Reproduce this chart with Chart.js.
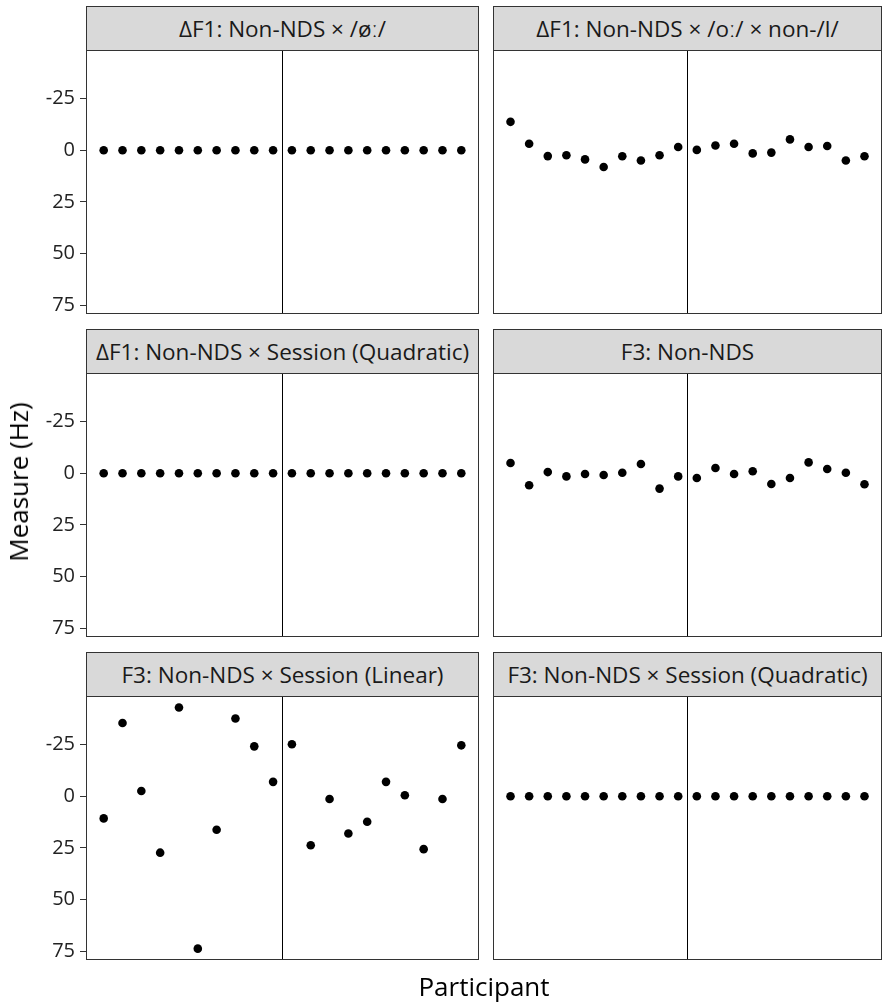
<!DOCTYPE html>
<html>
<head>
<meta charset="utf-8">
<script src="https://cdn.jsdelivr.net/npm/chart.js@4"></script>
<style>
  body { margin: 0; background: #fff; font-family: "Open Sans", sans-serif; }
  #wrap { position: relative; width: 883px; height: 1003px; }
  .strip { position: absolute; box-sizing: border-box; background: #d9d9d9; border: 1px solid #333;
           color: #1a1a1a; font-size: 22.5px; display: flex; align-items: center; justify-content: center; white-space: nowrap; }
  canvas { position: absolute; }
  .axtitle { position: absolute; color: #000; font-size: 26px; white-space: nowrap; }
</style>
</head>
<body>
<div id="wrap"></div>
<script>
// participants (x categories, not labelled in the figure)
const participants = ["P01","P02","P03","P04","P05","P06","P07","P08","P09","P10",
                      "P11","P12","P13","P14","P15","P16","P17","P18","P19","P20"];
const panelTitles = [
  "ΔF1: Non-NDS × /øː/",
  "ΔF1: Non-NDS × /oː/ × non-/l/",
  "ΔF1: Non-NDS × Session (Quadratic)",
  "F3: Non-NDS",
  "F3: Non-NDS × Session (Linear)",
  "F3: Non-NDS × Session (Quadratic)"
];
const f1Oe = [0,0,0,0,0,0,0,0,0,0, 0,0,0,0,0,0,0,0,0,0];
const f1OoNonL = [-13.8,-3.2,2.8,2.4,4.4,8.1,2.9,4.9,2.4,-1.6, -0.2,-2.3,-3.2,1.5,1.1,-5.3,-1.6,-2.1,4.9,2.9];
const f1SessionQuad = [0,0,0,0,0,0,0,0,0,0, 0,0,0,0,0,0,0,0,0,0];
const f3 = [-5.0,5.8,-0.6,1.5,0.3,0.8,-0.3,-4.5,7.4,1.5, 2.3,-2.6,0.3,-1.0,5.2,2.3,-5.3,-2.1,-0.3,5.3];
const f3SessionLin = [10.7,-35.5,-2.6,27.3,-43.0,73.8,16.2,-37.7,-24.2,-7.0, -25.2,23.7,1.3,18.0,12.3,-7.0,-0.5,25.6,1.3,-24.7];
const f3SessionQuad = [0,0,0,0,0,0,0,0,0,0, 0,0,0,0,0,0,0,0,0,0];
const yTicks = [-25, 0, 25, 50, 75];
const yMin = -48.6, yMax = 79.3;
const groupSplit = 9.5; // vertical line between participant 10 and 11

const panelValues = [f1Oe, f1OoNonL, f1SessionQuad, f3, f3SessionLin, f3SessionQuad];

const ink = "#333";
const wrap = document.getElementById("wrap");

const borderPlugin = {
  id: "panelBorder",
  afterDraw(chart) {
    const { ctx, chartArea: a } = chart;
    ctx.save();
    ctx.strokeStyle = ink;
    ctx.lineWidth = 1;
    ctx.strokeRect(a.left + 0.5, a.top + 0.5, a.right - a.left - 1, a.bottom - a.top - 1);
    ctx.restore();
  }
};

const colLeft = [86, 493];
const colRight = [479, 882];
const rowTop = [6, 329, 652];
const stripH = 45;
const plotH = 264;
const pad = 22;

panelValues.forEach((vals, k) => {
  const col = k % 2, row = Math.floor(k / 2);
  const strip = document.createElement("div");
  strip.className = "strip";
  strip.style.left = colLeft[col] + "px";
  strip.style.top = rowTop[row] + "px";
  strip.style.width = (colRight[col] - colLeft[col]) + "px";
  strip.style.height = stripH + "px";
  strip.textContent = panelTitles[k];
  wrap.appendChild(strip);

  const cv = document.createElement("canvas");
  const left = col === 0 ? 0 : colLeft[col];
  const w = colRight[col] - left;
  const h = plotH + 2 * pad;
  cv.width = w; cv.height = h;
  cv.style.left = left + "px";
  cv.style.top = (rowTop[row] + stripH - 1 - pad) + "px";
  cv.style.width = w + "px"; cv.style.height = h + "px";
  wrap.appendChild(cv);

  new Chart(cv, {
    type: "scatter",
    data: {
      datasets: [
        {
          type: "line",
          data: [{ x: groupSplit, y: yMin }, { x: groupSplit, y: yMax }],
          borderColor: "#000", borderWidth: 1, pointRadius: 0, fill: false
        },
        {
          data: participants.map((p, i) => ({ x: i, y: vals[i] })),
          backgroundColor: "#000", borderWidth: 0, pointRadius: 4.3, pointHoverRadius: 4.3
        }
      ]
    },
    options: {
      responsive: false,
      animation: false,
      devicePixelRatio: 1,
      layout: { autoPadding: false, padding: { top: pad, bottom: pad, left: 0, right: 0 } },
      plugins: { legend: { display: false }, tooltip: { enabled: false } },
      scales: {
        x: { type: "linear", display: false, min: -0.94, max: 19.94 },
        y: {
          display: col === 0,
          reverse: true,
          min: yMin, max: yMax,
          afterBuildTicks: s => { s.ticks = yTicks.map(v => ({ value: v })); },
          afterFit: s => { if (col === 0) s.width = 86; },
          grid: { drawOnChartArea: false, drawTicks: true, tickLength: 6, tickColor: ink },
          border: { display: false },
          ticks: { color: "#222", padding: 5, font: { family: "Open Sans", size: 20 } }
        }
      }
    },
    plugins: [borderPlugin]
  });
});

const xt = document.createElement("div");
xt.className = "axtitle";
xt.textContent = "Participant";
xt.style.left = "484px"; xt.style.top = "986px";
xt.style.transform = "translate(-50%, -50%)";
wrap.appendChild(xt);

const yt = document.createElement("div");
yt.className = "axtitle";
yt.textContent = "Measure (Hz)";
yt.style.left = "18px"; yt.style.top = "482px";
yt.style.transform = "translate(-50%, -50%) rotate(-90deg)";
wrap.appendChild(yt);
</script>
</body>
</html>
